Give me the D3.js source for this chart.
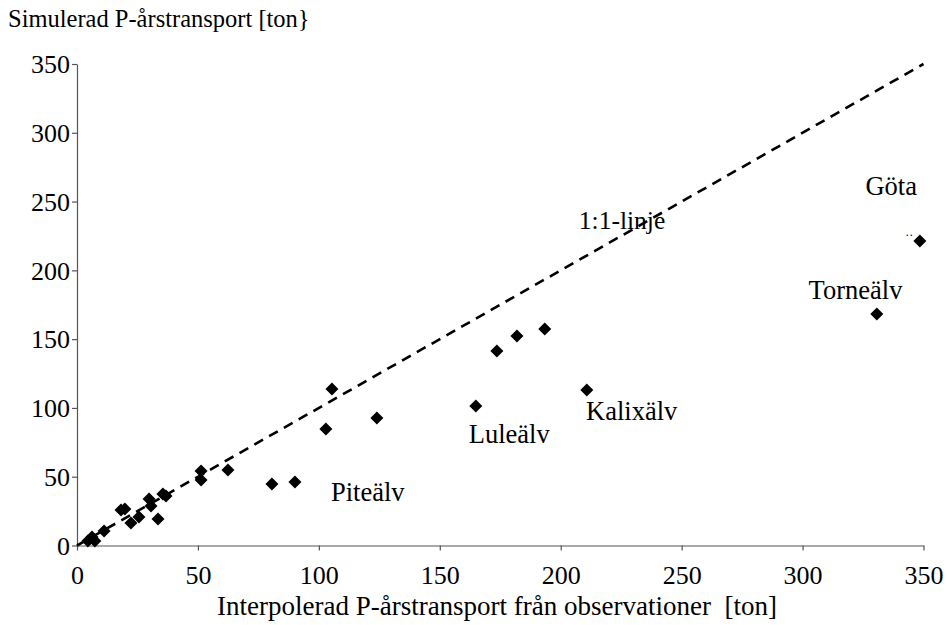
<!DOCTYPE html>
<html>
<head>
<meta charset="utf-8">
<script src="https://cdn.jsdelivr.net/npm/d3@7"></script>
<style>
  body { margin: 0; background: #fff; }
  svg { display: block; }
</style>
</head>
<body>
<svg id="chart" width="950" height="625"></svg>
<script>
// Interpolated annual P transport from observations [ton]
const observed = [4.5, 6.2, 7.4, 11.2, 18.2, 19.8, 22.3, 25.6, 29.8, 30.6, 33.5, 35.5, 36.8,
  51.3, 51.3, 62.4, 80.6, 90.1, 102.9, 105.4, 124.0, 164.9, 173.6, 181.9, 193.4, 210.8, 330.7, 348.5];
// Simulated annual P transport [ton]
const simulated = [3.3, 6.2, 3.3, 10.5, 25.8, 26.5, 16.4, 20.7, 33.8, 28.7, 19.3, 37.4, 36.0,
  54.2, 47.6, 54.9, 44.7, 46.2, 84.7, 113.8, 92.7, 101.4, 141.4, 152.3, 157.4, 113.0, 168.3, 221.3];

const tickValues = [0, 50, 100, 150, 200, 250, 300, 350];
const axisMax = 350;

// River labels, anchored in data units
const riverNames = ["Piteälv", "Luleälv", "Kalixälv", "Torneälv", "Göta"];
const riverLabelX = [105, 162, 210.5, 302.5, 326];
const riverLabelY = [32.5, 74.5, 91, 179, 254.5];

const FONT = "'Liberation Serif', Tinos, 'Times New Roman', Times, 'DejaVu Serif', serif";

const svg = d3.select("#chart").attr("font-family", FONT);
const plotLeft = 77, plotRight = 923.5, plotTop = 64, plotBottom = 545.5;

const x = d3.scaleLinear().domain([0, axisMax]).range([plotLeft, plotRight]);
const y = d3.scaleLinear().domain([0, axisMax]).range([plotBottom, plotTop]);

// axes
const xAxis = svg.append("g")
  .attr("transform", `translate(0,${plotBottom})`)
  .call(d3.axisBottom(x).tickValues(tickValues).tickSize(5).tickPadding(13).tickSizeOuter(0));
const yAxis = svg.append("g")
  .attr("transform", `translate(${plotLeft},0)`)
  .call(d3.axisLeft(y).tickValues(tickValues).tickSize(5).tickPadding(2).tickSizeOuter(0));

[xAxis, yAxis].forEach(g => {
  g.attr("font-family", FONT).attr("font-size", 26);
  g.select(".domain").attr("stroke", "#555").attr("stroke-width", 1.2);
  g.selectAll(".tick line").attr("stroke", "#555").attr("stroke-width", 1.2);
  g.selectAll(".tick text").attr("fill", "#000");
});
xAxis.selectAll(".tick text").attr("dy", "0.78em");
yAxis.selectAll(".tick text").attr("dy", "0.34em");

// 1:1 line
svg.append("line")
  .attr("x1", x(0)).attr("y1", y(0))
  .attr("x2", x(axisMax)).attr("y2", y(axisMax))
  .attr("stroke", "#000")
  .attr("stroke-width", 2.6)
  .attr("stroke-dasharray", "10,7");

// data points as diamonds
const pts = observed.map((v, i) => ({ x: v, y: simulated[i] }));
svg.append("g").selectAll("path")
  .data(pts)
  .enter().append("path")
  .attr("transform", d => `translate(${x(d.x)},${y(d.y)})`)
  .attr("d", "M0,-6.5L6.5,0L0,6.5L-6.5,0Z")
  .attr("fill", "#000");

// river labels
svg.append("g").selectAll("text")
  .data(riverNames)
  .enter().append("text")
  .attr("x", (d, i) => x(riverLabelX[i]))
  .attr("y", (d, i) => y(riverLabelY[i]))
  .attr("font-size", 26.5)
  .text(d => d);

// tiny dots beside the Göta marker
svg.append("text")
  .attr("x", x(342.5))
  .attr("y", y(223))
  .attr("font-size", 12)
  .text("··");

// line label
svg.append("text")
  .attr("x", x(207.5))
  .attr("y", y(230))
  .attr("font-size", 25.5)
  .text("1:1-linje");

// axis titles
svg.append("text")
  .attr("x", 8)
  .attr("y", 27)
  .attr("font-size", 24.5)
  .text("Simulerad P-årstransport [ton}");

svg.append("text")
  .attr("x", 497)
  .attr("y", 615)
  .attr("text-anchor", "middle")
  .attr("font-size", 27)
  .attr("xml:space", "preserve")
  .style("white-space", "pre")
  .text("Interpolerad P-årstransport från observationer  [ton]");
</script>
</body>
</html>
